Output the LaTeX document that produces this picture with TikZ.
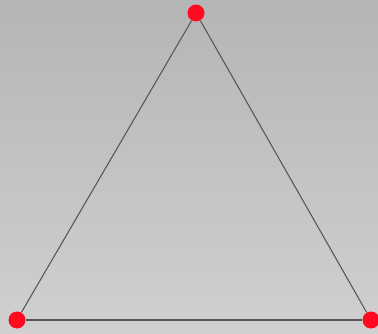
\documentclass[tikz,border=0pt]{standalone}
\usepackage{tikz}
\definecolor{bgTop}{HTML}{B5B5B5}
\definecolor{bgBottom}{HTML}{D0D0D0}
\definecolor{dotRed}{HTML}{FF0A1E}
\definecolor{edgeGray}{HTML}{555555}

\begin{document}
\begin{tikzpicture}[x=0.02cm,y=-0.02cm,
    vertex/.style={circle,fill=dotRed,inner sep=0pt,minimum size=0.34cm},
    edge/.style={draw=edgeGray,line width=0.6pt}]
  % background
  \shade[top color=bgTop,bottom color=bgBottom] (0,0) rectangle (378,334);
  \useasboundingbox (0,0) rectangle (378,334);
  % triangle
  \node[vertex] (apex) at (196,13) {};
  \node[vertex] (left) at (17,320) {};
  \node[vertex] (right) at (371,320) {};
  \draw[edge] (apex) -- (left);
  \draw[edge] (left) -- (right);
  \draw[edge] (right) -- (apex);
\end{tikzpicture}
\end{document}
